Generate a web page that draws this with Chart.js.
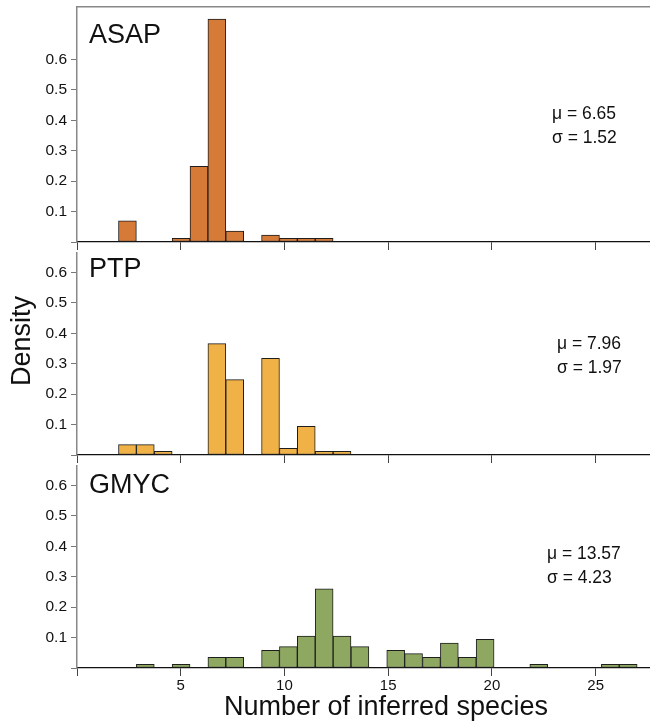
<!DOCTYPE html>
<html>
<head>
<meta charset="utf-8">
<script src="https://cdn.jsdelivr.net/npm/chart.js@4"></script>
<style>
body { margin: 0; background: #fff; }
#wrap { position: relative; width: 650px; height: 721px; }
#wrap canvas { position: absolute; left: 0; }
</style>
</head>
<body>
<div id="wrap">
  <canvas id="asap" width="650" height="252" style="top:0px"></canvas>
  <canvas id="ptp" width="650" height="213" style="top:252px"></canvas>
  <canvas id="gmyc" width="650" height="256" style="top:465px"></canvas>
</div>
<script>
// common histogram bins: 29 bins from 2 to 27 species
const binStart = 2;
const binEnd = 27;
const binCount = 29;

const asapDensity = [0.070, 0, 0, 0.012, 0.249, 0.733, 0.036, 0, 0.023, 0.012, 0.012, 0.012, 0, 0, 0,
                     0, 0, 0, 0, 0, 0, 0, 0, 0, 0, 0, 0, 0, 0];
const ptpDensity  = [0.034, 0.034, 0.012, 0, 0, 0.366, 0.248, 0, 0.318, 0.022, 0.094, 0.012, 0.012, 0, 0,
                     0, 0, 0, 0, 0, 0, 0, 0, 0, 0, 0, 0, 0, 0];
const gmycDensity = [0, 0.012, 0, 0.012, 0, 0.035, 0.035, 0, 0.058, 0.070, 0.105, 0.260, 0.105, 0.070, 0,
                     0.058, 0.047, 0.035, 0.082, 0.035, 0.094, 0, 0, 0.012, 0, 0, 0, 0.012, 0.012];

const asapStats = ['μ = 6.65', 'σ = 1.52'];
const ptpStats  = ['μ = 7.96', 'σ = 1.97'];
const gmycStats = ['μ = 13.57', 'σ = 4.23'];

const xTicks = [0, 5, 10, 15, 20, 25];
const yTicks = [0, 0.1, 0.2, 0.3, 0.4, 0.5, 0.6];
const xMax = 27.62;

const fam = "'Liberation Sans', Arial, Helvetica, sans-serif";
const binWidth = (binEnd - binStart) / binCount;
const binCenters = asapDensity.map((d, i) => binStart + (i + 0.5) * binWidth);

function annotate(name, stats, pos) {
    return {
        id: 'annotate',
        afterDraw(chart) {
            const ctx = chart.ctx, area = chart.chartArea;
            ctx.save();
            ctx.fillStyle = '#111';
            ctx.textAlign = 'left';
            ctx.textBaseline = 'alphabetic';
            ctx.font = '27px ' + fam;
            ctx.fillText(name, 89, area.top + pos.nameDy);
            ctx.font = '17.5px ' + fam;
            ctx.fillText(stats[0], pos.statX, area.top + pos.statDy);
            ctx.fillText(stats[1], pos.statX, area.top + pos.statDy + 24);
            if (pos.yTitle) {
                ctx.save();
                ctx.translate(30, area.top + 88);
                ctx.rotate(-Math.PI / 2);
                ctx.textAlign = 'center';
                ctx.font = '27px ' + fam;
                ctx.fillText('Density', 0, 0);
                ctx.restore();
            }
            if (pos.xTitle) {
                ctx.textAlign = 'center';
                ctx.font = '27px ' + fam;
                ctx.fillText('Number of inferred species', 386, area.bottom + 47);
            }
            ctx.restore();
        }
    };
}

function makePanel(id, name, density, color, stats, o) {
    let scales = {
        x: {
            type: 'linear', min: 0, max: xMax, offset: false,
            afterBuildTicks: s => { s.ticks = xTicks.map(v => ({value: v})); },
            afterFit: s => { s.height = o.xHeight; s.paddingLeft = 0; s.paddingRight = 0; },
            grid: { offset: false, drawOnChartArea: false, drawTicks: true, tickLength: 8, color: '#444', lineWidth: 1 },
            border: { color: '#111', width: 1.3 },
            ticks: {
                display: o.xLabels, padding: 1, color: '#111', maxRotation: 0, autoSkip: false,
                font: { family: fam, size: 15 },
                callback: v => v === 0 ? '' : v
            }
        },
        y: {
            min: 0, max: o.yMax,
            afterBuildTicks: s => { s.ticks = yTicks.map(v => ({value: v})); },
            afterFit: s => { s.width = 77; s.paddingTop = 0; s.paddingBottom = 0; },
            grid: { drawOnChartArea: false, drawTicks: true, tickLength: 6, color: '#777', lineWidth: 1 },
            border: { color: '#888', width: 1.5 },
            ticks: {
                padding: 4, color: '#111',
                font: { family: fam, size: 15.5 },
                callback: v => v === 0 ? '' : v.toFixed(1)
            }
        }
    };
    if (o.topLine) {
        scales.xTop = {
            type: 'linear', position: 'top', min: 0, max: xMax,
            afterFit: s => { s.height = 0; s.paddingLeft = 0; s.paddingRight = 0; },
            ticks: { display: false },
            grid: { display: false, drawTicks: false },
            border: { display: true, color: '#888', width: 1.5 }
        };
    }
    return new Chart(document.getElementById(id), {
        type: 'bar',
        data: {
            datasets: [{
                label: name,
                data: density.map((d, i) => ({ x: binCenters[i], y: d > 0 ? d : null })),
                backgroundColor: color,
                borderColor: '#1e1e1e',
                borderWidth: 1,
                borderSkipped: false,
                barPercentage: 1,
                categoryPercentage: 1
            }]
        },
        options: {
            responsive: false,
            animation: false,
            events: [],
            layout: { padding: { top: o.padTop, left: 0, right: 0, bottom: 0 } },
            plugins: { legend: { display: false }, tooltip: { enabled: false } },
            scales: scales
        },
        plugins: [annotate(name, stats, o)]
    });
}

makePanel('asap', 'ASAP', asapDensity, '#D67A38', asapStats,
    { padTop: 7, xHeight: 10, yMax: 0.773, xLabels: false, topLine: true, nameDy: 36, statX: 552, statDy: 112 });
makePanel('ptp', 'PTP', ptpDensity, '#F0B246', ptpStats,
    { padTop: 1, xHeight: 10, yMax: 0.664, xLabels: false, nameDy: 24, statX: 557, statDy: 96, yTitle: true });
makePanel('gmyc', 'GMYC', gmycDensity, '#8EA862', gmycStats,
    { padTop: 1, xHeight: 53, yMax: 0.664, xLabels: true, nameDy: 27, statX: 547, statDy: 93, xTitle: true });
</script>
</body>
</html>
